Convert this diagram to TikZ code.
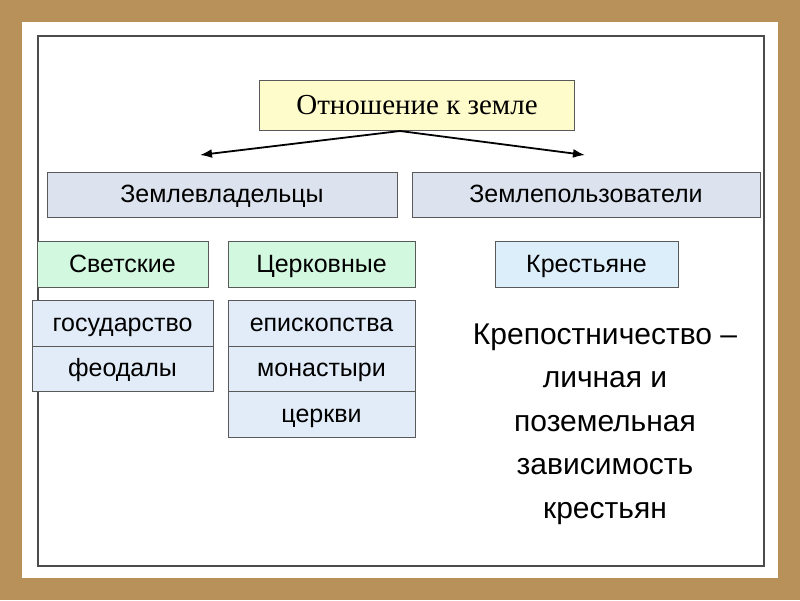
\documentclass[tikz,border=0pt]{standalone}
\usepackage{fontspec}
\usetikzlibrary{arrows.meta}
\setmainfont{Liberation Serif}
\setsansfont{Liberation Sans}
\definecolor{parch}{HTML}{B8915A}
\definecolor{grayblue}{HTML}{DCE3EE}
\definecolor{lgreen}{HTML}{D2F8E0}
\definecolor{lblue}{HTML}{DDEEFB}
\definecolor{pblue}{HTML}{E2ECF8}
\begin{document}
\begin{tikzpicture}[x=1pt,y=-1pt,
  bx/.style={draw=gray!70!black,line width=0.8pt,font=\sffamily\fontsize{25}{28}\selectfont,inner sep=0pt,text height=19pt,text depth=3pt},
  arr/.style={line width=1.8pt,-{Latex[length=12pt,width=9pt]}}]
\fill[parch] (0,0) rectangle (800,600);
\fill[white] (22,22) rectangle (778,578);
\draw[gray!60!black,line width=2pt] (38,36) rectangle (764,566);
\node[bx,fill=yellow!20,font=\rmfamily\fontsize{29}{32}\selectfont,minimum width=315,minimum height=50,text height=22pt] (t) at (417,105) {Отношение к земле};
\coordinate (l) at (200,155); \coordinate (r) at (585,155);
\draw[arr] (400,131) -- (l);
\draw[arr] (400,131) -- (r);
\node[bx,fill=grayblue,minimum width=350,minimum height=45] (a) at (222,194.5) {Землевладельцы};
\node[bx,fill=grayblue,minimum width=348,minimum height=45] (b) at (586,194.5) {Землепользователи};
\node[bx,fill=lgreen,minimum width=171,minimum height=46] (s) at (122.5,264) {Светские};
\node[bx,fill=lgreen,minimum width=187,minimum height=46] (c) at (321.5,264) {Церковные};
\node[bx,fill=lblue,minimum width=183,minimum height=46] (k) at (586.5,264) {Крестьяне};
\node[bx,fill=pblue,minimum width=181,minimum height=46] (g) at (122.5,323) {государство};
\node[bx,fill=pblue,minimum width=181,minimum height=45] (f) at (122.5,368.5) {феодалы};
\node[bx,fill=pblue,minimum width=187,minimum height=46] (e) at (321.5,323) {епископства};
\node[bx,fill=pblue,minimum width=187,minimum height=45] (m) at (321.5,368.5) {монастыри};
\node[bx,fill=pblue,minimum width=187,minimum height=46] (z) at (321.5,414) {церкви};
\node[align=center,font=\sffamily\fontsize{30}{43.5}\selectfont] (txt) at (605,424) {Крепостничество --\\личная и\\поземельная\\зависимость\\крестьян};
\end{tikzpicture}
\end{document}
